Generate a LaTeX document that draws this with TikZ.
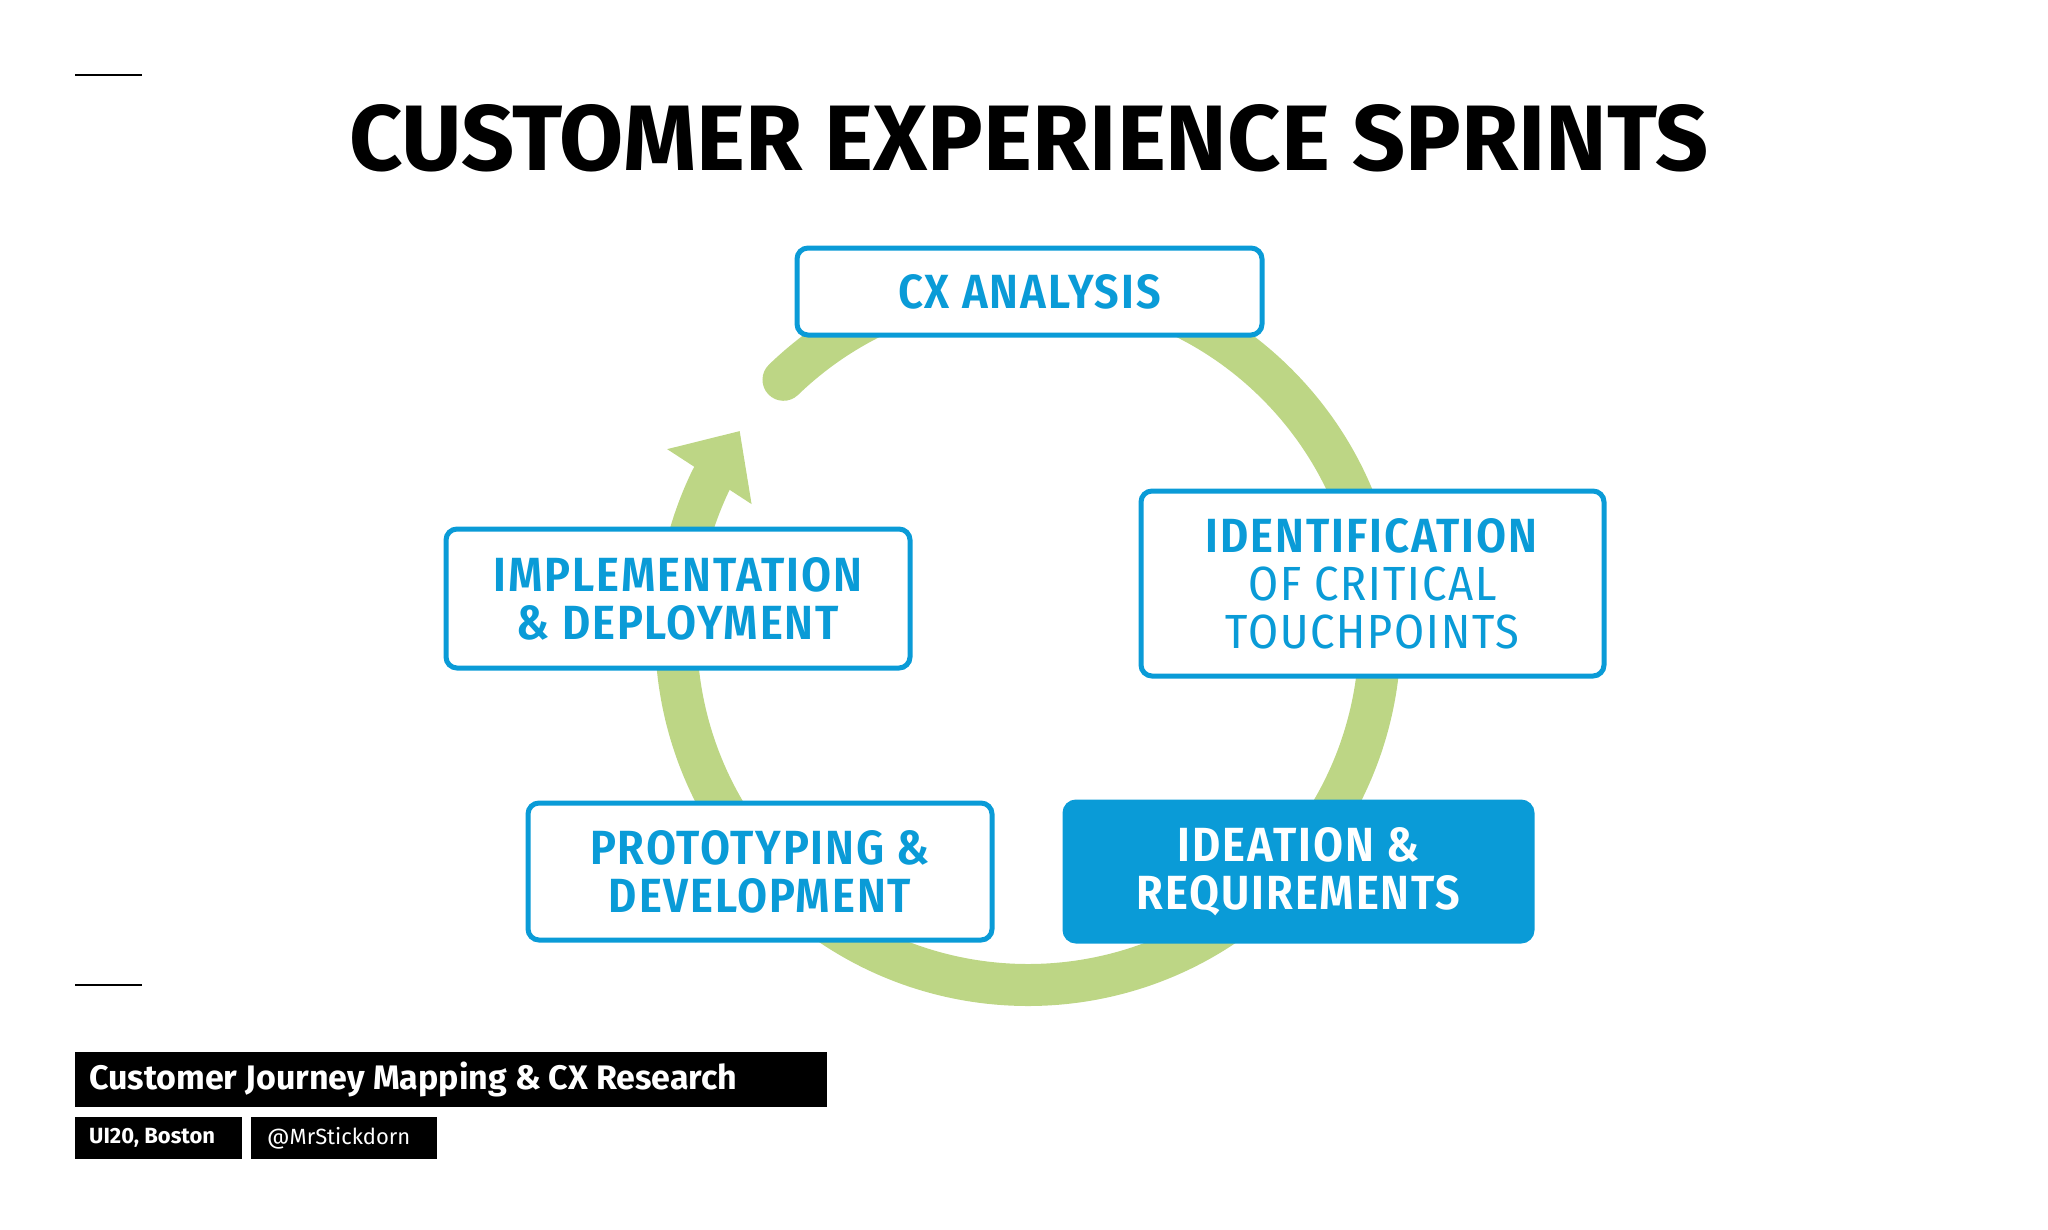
\documentclass[tikz,border=0pt]{standalone}
\usepackage{fontspec}
\setmainfont{Fira Sans}
\newfontfamily\boxf{Fira Sans Condensed}[UprightFont=*,BoldFont=* SemiBold,LetterSpace=4]
\usetikzlibrary{positioning}
\definecolor{cxblue}{HTML}{0A9BD7}
\definecolor{cxgreen}{HTML}{BDD685}
\begin{document}
\begin{tikzpicture}[x=1pt,y=-1pt,
  box/.style={draw=cxblue,line width=5pt,rounded corners=11pt,fill=white,inner sep=0pt},
  boxt/.style={text=cxblue,font=\fontsize{48}{48}\selectfont\boxf\bfseries,align=center},
  foot/.style={fill=black,text=white,inner sep=0pt,anchor=north west}]
\useasboundingbox (0,0) rectangle (2048,1229);
% ring
\coordinate (c) at (1028,633);
\draw[cxgreen,line width=42pt,line cap=round] ([shift={(-134:352)}]c) arc[start angle=-134,end angle=206,radius=352];
\fill[cxgreen] ([shift={(-145:352)}]c) -- ([shift={(-153:405)}]c) -- ([shift={(-155:305)}]c) -- cycle;
% boxes
\node[box,minimum width=465pt,minimum height=87pt] (cx) at (1029.5,291.5) {};
\node[boxt] at (cx) {CX ANALYSIS};
\node[box,minimum width=463pt,minimum height=185pt] (id) at (1372.5,583.5) {};
\node[boxt,font=\fontsize{48}{48}\selectfont\boxf] at (id) {\textbf{IDENTIFICATION}\\OF CRITICAL\\TOUCHPOINTS};
\node[box,fill=cxblue,minimum width=467pt,minimum height=139pt] (ir) at (1298.5,871.5) {};
\node[boxt,text=white] at (ir) {IDEATION \&\\REQUIREMENTS};
\node[box,minimum width=464pt,minimum height=137pt] (pd) at (760,871.5) {};
\node[boxt] at (pd) {PROTOTYPING \&\\DEVELOPMENT};
\node[box,minimum width=464pt,minimum height=139pt] (im) at (678,598.5) {};
\node[boxt] at (im) {IMPLEMENTATION\\\& DEPLOYMENT};
% title
\node[font=\fontsize{93}{96}\selectfont\bfseries] (title) at (1029,138) {CUSTOMER EXPERIENCE SPRINTS};
% side lines
\coordinate (l1a) at (75,75); \coordinate (l1b) at (142,75);
\coordinate (l2a) at (75,985); \coordinate (l2b) at (142,985);
\draw[line width=1.5pt] (l1a) -- (l1b);
\draw[line width=1.5pt] (l2a) -- (l2b);
% footer
\node[foot,minimum width=752pt,minimum height=55pt] (f1) at (75,1052) {};
\node[text=white,anchor=west,inner sep=0pt,font=\fontsize{34}{36}\selectfont\bfseries] at ([xshift=14pt]f1.west) {Customer Journey Mapping \& CX Research};
\node[foot,minimum width=167pt,minimum height=42pt] (f2) at (75,1117) {};
\node[text=white,anchor=west,inner sep=0pt,font=\fontsize{22}{24}\selectfont\bfseries] at ([xshift=14pt]f2.west) {UI20, Boston};
\node[foot,minimum width=186pt,minimum height=42pt] (f3) at (251,1117) {};
\node[text=white,anchor=west,inner sep=0pt,font=\fontsize{22}{24}\selectfont] at ([xshift=16pt]f3.west) {@MrStickdorn};
\end{tikzpicture}
\end{document}
